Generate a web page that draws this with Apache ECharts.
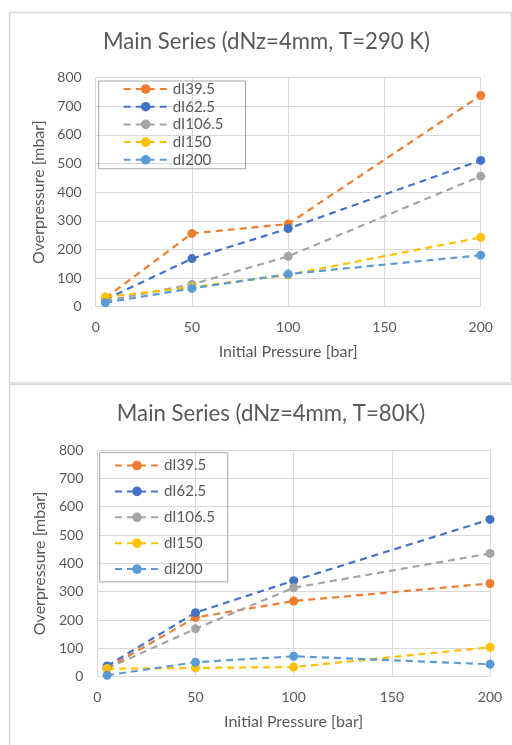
<!DOCTYPE html>
<html>
<head>
<meta charset="utf-8">
<script src="https://cdn.jsdelivr.net/npm/echarts@6/dist/echarts.min.js"></script>
<style>
  html, body { margin: 0; padding: 0; background: #fff; }
  #chart { width: 512px; height: 745px; }
</style>
</head>
<body>
<div id="chart"></div>
<script>
// Initial pressure values [bar] shared by both panels
const pressures = [5, 50, 100, 200];
const seriesNames = ['dI39.5', 'dI62.5', 'dI106.5', 'dI150', 'dI200'];
const seriesColors = ['#ED7D31', '#4472C4', '#A5A5A5', '#FFC000', '#5B9BD5'];

// Overpressure [mbar] at T = 290 K
const warm_dI39_5 = [30, 256, 289, 738];
const warm_dI62_5 = [25, 168, 273, 511];
const warm_dI106_5 = [20, 78, 176, 456];
const warm_dI150 = [34, 68, 111, 242];
const warm_dI200 = [14, 64, 114, 180];

// Overpressure [mbar] at T = 80 K
const cold_dI39_5 = [30, 209, 267, 329];
const cold_dI62_5 = [38, 226, 339, 555];
const cold_dI106_5 = [29, 169, 314, 435];
const cold_dI150 = [28, 31, 34, 104];
const cold_dI200 = [5, 51, 72, 44];

const yTicks = [0, 100, 200, 300, 400, 500, 600, 700, 800];
const xTicks = [0, 50, 100, 150, 200];

const titles = ['Main Series (dNz=4mm, T=290 K)', 'Main Series (dNz=4mm, T=80K)'];
const warmSets = [warm_dI39_5, warm_dI62_5, warm_dI106_5, warm_dI150, warm_dI200];
const coldSets = [cold_dI39_5, cold_dI62_5, cold_dI106_5, cold_dI150, cold_dI200];

const FONT = 'Lato, "Open Sans", sans-serif';
const TXT = '#595959';
const GRIDC = '#d9d9d9';

function pairs(vals) { return pressures.map((p, i) => [p, vals[i]]); }

const grids = [
  { left: 95.7, right: 31.3, top: 77.7, height: 229 },
  { left: 97.3, right: 22, top: 450, height: 226.7 }
];

function xAxis(idx) {
  return {
    gridIndex: idx, type: 'value', min: xTicks[0], max: xTicks[xTicks.length - 1], interval: 50,
    name: 'Initial Pressure [bar]', nameLocation: 'middle', nameGap: 37,
    nameTextStyle: { color: TXT, fontFamily: FONT, fontSize: 16 },
    axisLine: { show: false }, axisTick: { show: false },
    axisLabel: { color: TXT, fontFamily: FONT, fontSize: 14, margin: 14 },
    splitLine: { show: true, lineStyle: { color: GRIDC, width: 1 } }
  };
}
function yAxis(idx) {
  return {
    gridIndex: idx, type: 'value', min: yTicks[0], max: yTicks[yTicks.length - 1], interval: 100,
    name: 'Overpressure [mbar]', nameLocation: 'middle', nameGap: 39,
    nameTextStyle: { color: TXT, fontFamily: FONT, fontSize: 16 },
    axisLine: { show: false }, axisTick: { show: false },
    axisLabel: { color: TXT, fontFamily: FONT, fontSize: 14, margin: 14 },
    splitLine: { show: true, lineStyle: { color: GRIDC, width: 1 } }
  };
}

function makeSeries(sets, idx) {
  return sets.map((vals, k) => ({
    name: seriesNames[k],
    type: 'line',
    xAxisIndex: idx, yAxisIndex: idx,
    data: pairs(vals),
    color: seriesColors[k],
    symbol: 'circle', symbolSize: 9,
    lineStyle: { width: 2.2, type: [7, 5], color: seriesColors[k] },
    itemStyle: { color: seriesColors[k] },
    emphasis: { disabled: true },
    animation: false
  }));
}

const legendText = { color: TXT, fontFamily: FONT, fontSize: 15 };

const option = {
  backgroundColor: '#fff',
  animation: false,
  title: [
    { text: titles[0], left: 261.5, top: 26, textAlign: 'center',
      textStyle: { color: TXT, fontFamily: FONT, fontSize: 22.2, fontWeight: 'normal' } },
    { text: titles[1], left: 266, top: 398, textAlign: 'center',
      textStyle: { color: TXT, fontFamily: FONT, fontSize: 22.2, fontWeight: 'normal' } }
  ],
  grid: grids,
  xAxis: [xAxis(0), xAxis(1)],
  yAxis: [yAxis(0), yAxis(1)],
  legend: [
    { data: seriesNames, orient: 'vertical', left: 98.7, top: 81,
      itemWidth: 44, itemHeight: 12, itemGap: 2.7,
      padding: [0.5, 22, 1.5, 24],
      borderColor: '#a6a6a6', borderWidth: 1,
      textStyle: legendText, selectedMode: false },
    { data: seriesNames, orient: 'vertical', left: 99.7, top: 452.7,
      itemWidth: 44, itemHeight: 12, itemGap: 10.9,
      padding: [5.3, 13, 5.3, 14.3],
      borderColor: '#a6a6a6', borderWidth: 1,
      textStyle: legendText, selectedMode: false }
  ],
  graphic: [
    { type: 'rect', shape: { x: 9.5, y: 12.5, width: 502, height: 370.5 },
      style: { fill: 'none', stroke: '#d9d9d9', lineWidth: 1.5 }, silent: true },
    { type: 'rect', shape: { x: 9.5, y: 384.5, width: 520, height: 380 },
      style: { fill: 'none', stroke: '#d9d9d9', lineWidth: 1.5 }, silent: true }
  ],
  series: makeSeries(warmSets, 0).concat(makeSeries(coldSets, 1))
};

const chart = echarts.init(document.getElementById('chart'), null, { renderer: 'canvas' });
chart.setOption(option);
</script>
</body>
</html>
